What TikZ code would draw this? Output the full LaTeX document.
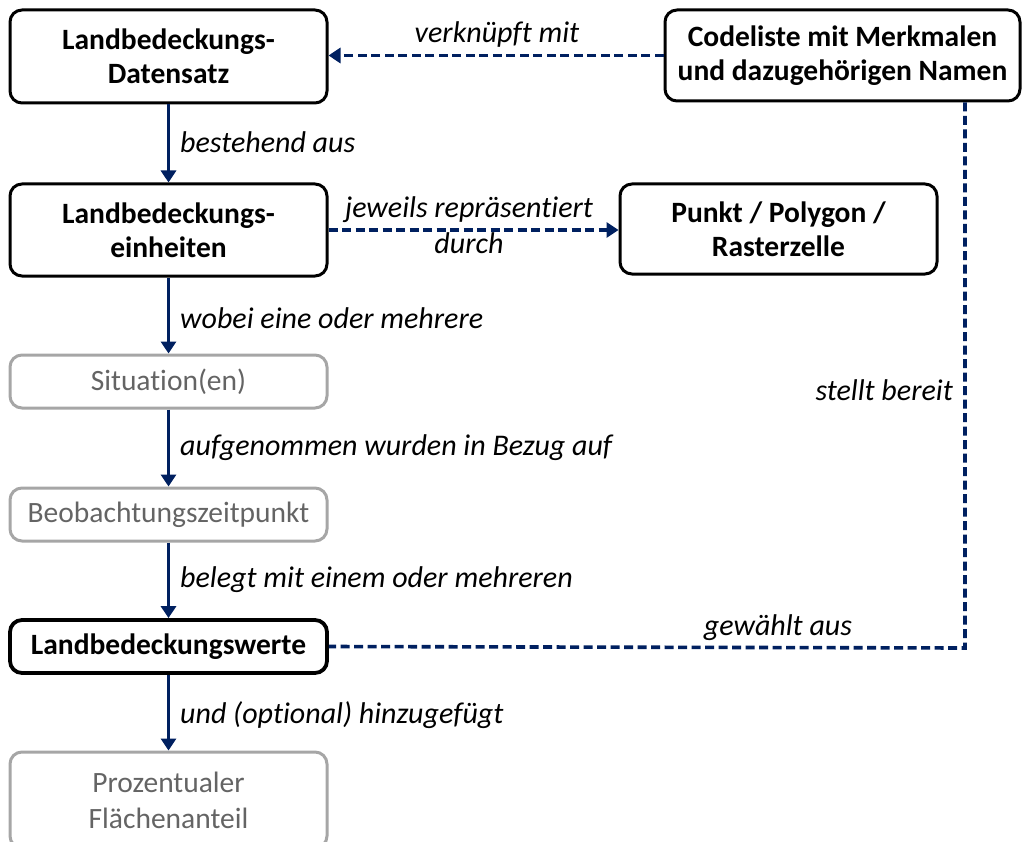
\documentclass[tikz,border=0pt]{standalone}
\usepackage{fontspec}
\setmainfont{Carlito}[Ligatures={NoCommon}]
\usetikzlibrary{arrows.meta}
\definecolor{navy}{RGB}{0,32,96}
\definecolor{gbord}{RGB}{166,166,166}
\definecolor{gtext}{RGB}{100,100,100}
\begin{document}
\begin{tikzpicture}[x=1pt,y=-1pt,
  box/.style={draw=black,line width=3pt,rounded corners=12pt,align=center,
    font=\fontsize{29.5}{34}\selectfont\bfseries,inner sep=0pt},
  gbox/.style={draw=gbord,line width=3pt,rounded corners=12pt,align=center,
    text=gtext,font=\fontsize{29.5}{36}\selectfont,inner sep=0pt},
  arr/.style={draw=navy,line width=3.5pt,-{Triangle[length=12pt,width=15pt]}},
  darr/.style={draw=navy,line width=3.6pt,dash pattern=on 9pt off 4.5pt,-{Triangle[length=12pt,width=15pt]}},
  dline/.style={draw=navy,line width=3.6pt,dash pattern=on 9pt off 4.5pt},
  lab/.style={font=\fontsize{30}{33}\selectfont\itshape,inner sep=0pt,align=center}]
\useasboundingbox (0,0) rectangle (1024,842);
\node[box,minimum width=317pt,minimum height=93pt] (A) at (168.5,56.5) {Landbedeckungs-\\Datensatz};
\node[box,minimum width=355pt,minimum height=91pt] (D) at (842.5,55.5) {Codeliste mit Merkmalen\\und dazugehörigen Namen};
\node[box,minimum width=317pt,minimum height=92pt] (B) at (168.5,230) {Landbedeckungs-\\einheiten};
\node[box,minimum width=317pt,minimum height=90pt] (C) at (778.5,229) {Punkt / Polygon /\\Rasterzelle};
\node[gbox,minimum width=317pt,minimum height=53pt] (S) at (168.5,381.5) {Situation(en)};
\node[gbox,minimum width=317pt,minimum height=53pt] (O) at (168.5,514.5) {Beobachtungszeitpunkt};
\node[box,line width=3.8pt,minimum width=317pt,minimum height=53pt] (L) at (168.5,646.5) {Landbedeckungswerte};
\node[gbox,minimum width=317pt,minimum height=96pt] (P) at (168.5,800) {Prozentualer\\Flächenanteil};
\coordinate (K) at (965,648);
\draw[darr] (D.west) -- (D.west -| A.east);
\draw[arr] (A) -- (B);
\draw[darr] (B.east) -- (B.east -| C.west);
\draw[arr] (B) -- (S);
\draw[arr] (S) -- (O);
\draw[arr] (O) -- (L);
\draw[arr] (L) -- (P.north);
\draw[dline] (D.south -| K) -- (K) -- (L.east);
\node[lab] (l1) at (497,35) {verknüpft mit};
\node[lab,anchor=west] (l2) at (180,142) {bestehend aus};
\node[lab] (l3) at (469,210) {jeweils repräsentiert};
\node[lab] (l3b) at (469,243) {durch};
\node[lab,anchor=west] (l4) at (180,318) {wobei eine oder mehrere};
\node[lab,anchor=west] (l5) at (180,448) {aufgenommen wurden in Bezug auf};
\node[lab,anchor=west] (l6) at (180,580) {belegt mit einem oder mehreren};
\node[lab,anchor=west] (l7) at (180,715) {und (optional) hinzugefügt};
\node[lab,anchor=east] (l8) at (953,390) {stellt bereit};
\node[lab] (l9) at (778,628) {gewählt aus};
\end{tikzpicture}
\end{document}
